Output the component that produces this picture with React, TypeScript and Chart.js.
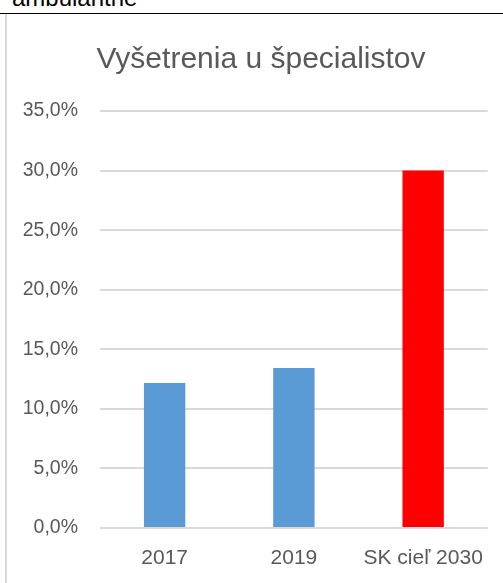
import React, { useEffect, useRef } from "react";
import { Chart, registerables } from "chart.js";

Chart.register(...registerables);

const categories = ["2017", "2019", "SK cieľ 2030"];
const values = [12.16, 13.42, 30.0];
const barColors = ["#5b9bd5", "#5b9bd5", "#ff0000"];
const yTicks = [0, 5, 10, 15, 20, 25, 30, 35];
const chartTitle = "Vyšetrenia u špecialistov";
const topCaption = "ambulantne";

const SANS = "'Liberation Sans', Arial, sans-serif";

const titlePlugin = {
  id: "offsetTitle",
  afterDraw(chart: any) {
    const ctx = chart.ctx;
    ctx.save();
    ctx.font = `30px ${SANS}`;
    ctx.fillStyle = "#595959";
    ctx.textAlign = "center";
    ctx.textBaseline = "alphabetic";
    ctx.fillText(chartTitle, 261, 68);
    ctx.restore();
  },
};

export default function App() {
  const ref = useRef<HTMLCanvasElement | null>(null);

  useEffect(() => {
    document.body.style.margin = "0";
    const canvas = ref.current;
    if (!canvas) return;
    const chart = new Chart(canvas, {
      type: "bar",
      data: {
        labels: categories,
        datasets: [
          {
            data: values,
            backgroundColor: barColors,
            borderWidth: 0,
            barPercentage: 0.32,
            categoryPercentage: 1,
          },
        ],
      },
      plugins: [titlePlugin],
      options: {
        responsive: false,
        animation: false,
        maintainAspectRatio: false,
        layout: { padding: { left: 8, right: 13, top: 111, bottom: 0 } },
        plugins: {
          legend: { display: false },
          tooltip: { enabled: false },
          title: { display: false },
        },
        scales: {
          x: {
            grid: { display: false, drawTicks: false },
            border: { display: false },
            ticks: {
              color: "#595959",
              font: { family: SANS, size: 21 },
              padding: 18,
              maxRotation: 0,
              autoSkip: false,
            },
            afterFit: (s: any) => {
              s.height = 55;
            },
          },
          y: {
            min: 0,
            max: 35,
            afterBuildTicks: (s: any) => {
              s.ticks = yTicks.map((v) => ({ value: v }));
            },
            grid: { color: "#d9d9d9", lineWidth: 2, drawTicks: false },
            border: { display: false },
            ticks: {
              color: "#595959",
              font: { family: SANS, size: 19.5 },
              padding: 22,
              callback: (v: any) => Number(v).toFixed(1).replace(".", ",") + "%",
            },
            afterFit: (s: any) => {
              s.width = 92;
            },
          },
        },
      },
    });
    return () => chart.destroy();
  }, []);

  return (
    <div style={{ position: "relative", width: 503, height: 583, overflow: "hidden", background: "#fff" }}>
      <div
        style={{
          position: "absolute",
          left: 12,
          top: -14,
          fontFamily: SANS,
          fontSize: 24,
          lineHeight: "24px",
          color: "#000",
          whiteSpace: "nowrap",
        }}
      >
        {topCaption}
      </div>
      <div style={{ position: "absolute", left: 0, top: 13, width: 503, height: 1, background: "#000" }} />
      <div style={{ position: "absolute", left: 5, top: 14, width: 2, height: 569, background: "#d9d9d9" }} />
      <canvas ref={ref} width={503} height={583} style={{ position: "absolute", left: 0, top: 0 }} />
    </div>
  );
}
